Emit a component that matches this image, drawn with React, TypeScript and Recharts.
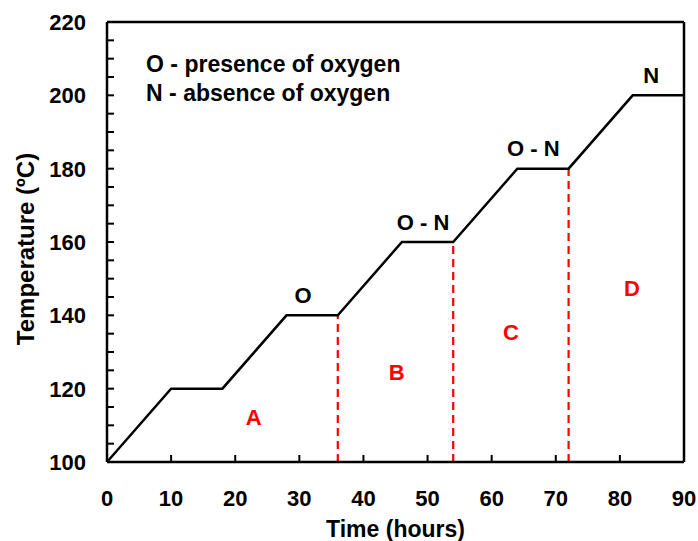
import { ComposedChart, Line, XAxis, YAxis, ReferenceLine, ReferenceDot } from 'recharts'

const hours = [0, 10, 18, 28, 36, 46, 54, 64, 72, 82, 90]
const temps = [100, 120, 120, 140, 140, 160, 160, 180, 180, 200, 200]

const xTicks = [0, 10, 20, 30, 40, 50, 60, 70, 80, 90]
const yTicks = [100, 105, 110, 115, 120, 125, 130, 135, 140, 145, 150, 155, 160, 165, 170, 175, 180, 185, 190, 195, 200, 205, 210, 215, 220]

// red dashed dividers between the zones
const dividerX = [36, 54, 72]
const dividerTop = [140, 160, 180]

// black phase labels above the plateaus
const phaseText = ['O', 'O - N', 'O - N', 'N']
const phaseX = [30.6, 49.3, 66.5, 84.9]
const phaseY = [145.4, 165.5, 185.7, 205.6]

// red zone letters
const zoneText = ['A', 'B', 'C', 'D']
const zoneX = [22.9, 45.2, 63.0, 81.9]
const zoneY = [112.3, 124.5, 135.4, 147.3]

const noteText = ['O - presence of oxygen', 'N - absence of oxygen']
const noteX = [6.1, 6.1]
const noteY = [208.7, 200.6]

const data = hours.map((h, i) => ({ h, t: temps[i] }))

const FONT = '"Liberation Sans", Arial, sans-serif'
const OFF = 1
const TICK = 7

const XTick = (p: any) => (
  <text x={p.x} y={p.y - OFF + 36} dy="0.36em" textAnchor="middle" fontSize={22} fontWeight="bold" fontFamily={FONT} fill="#000">
    {p.payload.value}
  </text>
)

const YTick = (p: any) =>
  p.payload.value % 20 === 0 ? (
    <text x={p.x + OFF - 21} y={p.y} dy="0.36em" textAnchor="end" fontSize={22} fontWeight="bold" fontFamily={FONT} fill="#000">
      {p.payload.value}
    </text>
  ) : (
    <g />
  )

// inward tick marks, placed on the axes through the chart scales
const xMark = (p: any) => <path d={`M${p.cx},${p.cy}V${p.cy - TICK}`} stroke="#000" strokeWidth={2} fill="none" />
const yMark = (p: any) => <path d={`M${p.cx},${p.cy}H${p.cx + TICK}`} stroke="#000" strokeWidth={2} fill="none" />

const textShape = (label: string, color: string, anchor: string, size: number) => (p: any) => (
  <text x={p.cx} y={p.cy} dy="0.36em" textAnchor={anchor} fontSize={size} fontWeight="bold" fontFamily={FONT} fill={color}>
    {label}
  </text>
)

export default function App() {
  return (
    <div style={{ position: 'absolute', left: 8, top: 8 }}>
      <ComposedChart width={690} height={533} data={data} margin={{ top: 14, right: 14, left: 0, bottom: 0 }}>
        <XAxis
          dataKey="h"
          type="number"
          domain={[0, 90]}
          ticks={xTicks}
          height={79}
          tickSize={OFF}
          tickMargin={0}
          tickLine={false}
          tick={<XTick />}
          interval={0}
          axisLine={{ stroke: '#000', strokeWidth: 2.5 }}
          label={(p: any) => (
            <text x={p.viewBox.x + p.viewBox.width / 2} y={p.viewBox.y + 66.7} dy="0.36em" textAnchor="middle" fontSize={23} fontWeight="bold" fontFamily={FONT} fill="#000">
              Time (hours)
            </text>
          )}
        />
        <YAxis
          type="number"
          domain={[100, 220]}
          ticks={yTicks}
          width={99}
          tickSize={OFF}
          tickMargin={0}
          tickLine={false}
          tick={<YTick />}
          interval={0}
          axisLine={{ stroke: '#000', strokeWidth: 2.5 }}
          label={(p: any) => {
            const cx = p.viewBox.x + 17
            const cy = p.viewBox.y + p.viewBox.height / 2 + 7
            return (
              <text x={cx} y={cy} dy="0.36em" transform={`rotate(-90 ${cx} ${cy})`} textAnchor="middle" fontSize={24} fontWeight="bold" fontFamily={FONT} fill="#000">
                Temperature (ºC)
              </text>
            )
          }}
        />
        <ReferenceLine y={220} stroke="#000" strokeWidth={2.5} />
        <ReferenceLine x={90} stroke="#000" strokeWidth={2.5} />
        {xTicks.slice(1, -1).map(v => (
          <ReferenceDot key={'xt' + v} x={v} y={100} r={0} shape={xMark} />
        ))}
        {yTicks.slice(1, -1).map(v => (
          <ReferenceDot key={'yt' + v} x={0} y={v} r={0} shape={yMark} />
        ))}
        {dividerX.map((x, i) => (
          <ReferenceLine
            key={'d' + i}
            segment={[{ x, y: 100 }, { x, y: dividerTop[i] }]}
            stroke="#ff0000"
            strokeWidth={2.2}
            strokeDasharray="8 5"
          />
        ))}
        <Line dataKey="t" stroke="#000" strokeWidth={2.5} dot={false} isAnimationActive={false} type="linear" />
        {phaseText.map((s, i) => (
          <ReferenceDot key={'p' + i} x={phaseX[i]} y={phaseY[i]} r={0} shape={textShape(s, '#000', 'middle', 22)} />
        ))}
        {zoneText.map((s, i) => (
          <ReferenceDot key={'z' + i} x={zoneX[i]} y={zoneY[i]} r={0} shape={textShape(s, '#ff0000', 'middle', 22)} />
        ))}
        {noteText.map((s, i) => (
          <ReferenceDot key={'n' + i} x={noteX[i]} y={noteY[i]} r={0} shape={textShape(s, '#000', 'start', 23)} />
        ))}
      </ComposedChart>
    </div>
  )
}
